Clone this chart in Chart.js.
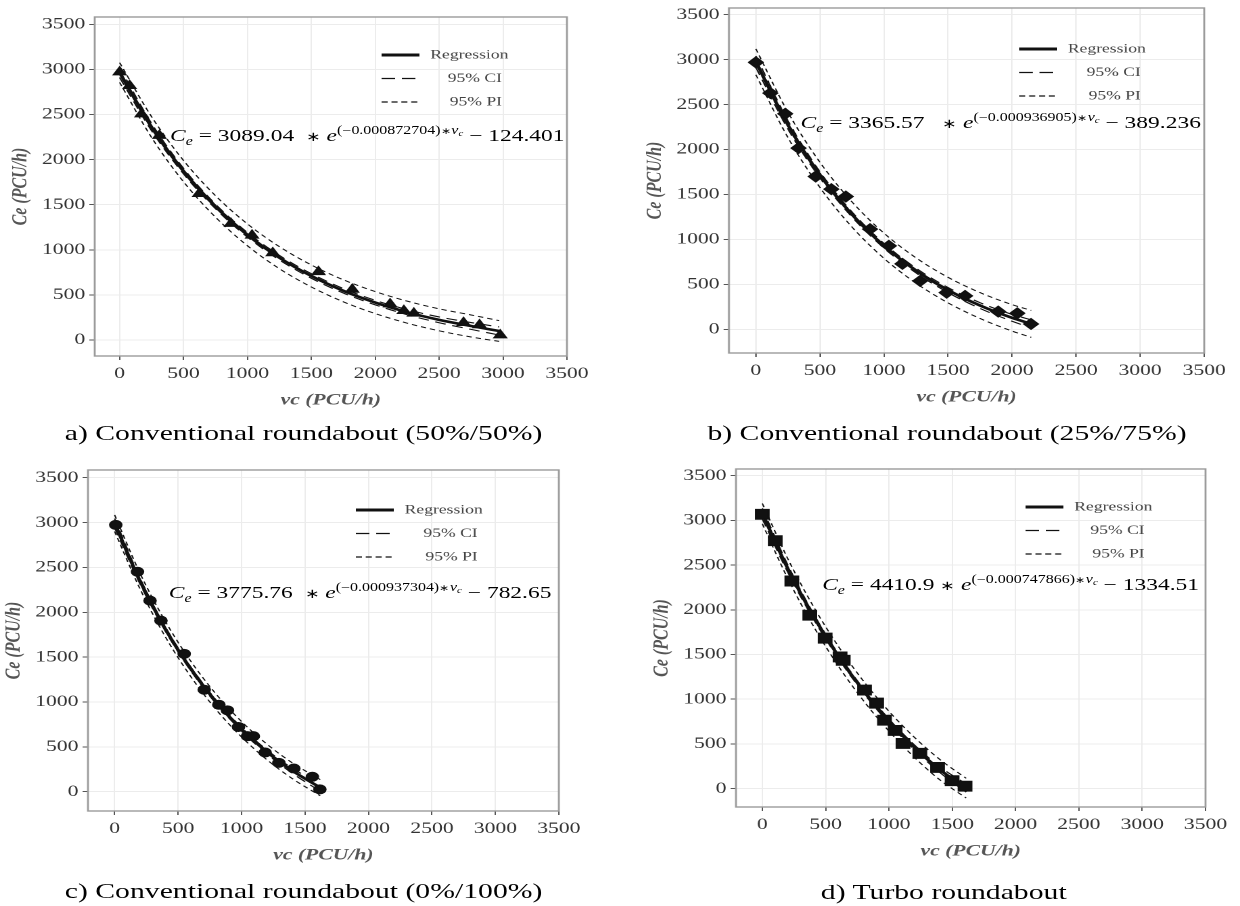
<!DOCTYPE html>
<html>
<head>
<meta charset="utf-8">
<script src="https://cdn.jsdelivr.net/npm/chart.js@4"></script>
<style>
  html, body { margin: 0; padding: 0; background: #fff; }
  body { width: 1240px; height: 906px; overflow: hidden; position: relative; }
  /* the source figure is stretched sideways, so the whole page is too */
  #page { position: absolute; left: 0; top: 0; width: 919px; height: 906px;
          transform: scaleX(1.35); transform-origin: 0 0;
          font-family: "Liberation Serif", "Times New Roman", serif; }
  #page canvas { position: absolute; }
  .eq { position: absolute; font-size: 17.4px; line-height: 1; white-space: nowrap; color: #000; }
  .eq sub, .eq sup { font-size: 0.68em; line-height: 0; position: relative; vertical-align: baseline; }
  .eq sup { top: -0.62em; }
  .eq sub { top: 0.3em; }
  .eq .op { font-size: 0.72em; }
  .cap { position: absolute; font-size: 22px; line-height: 1; white-space: nowrap; color: #000; }
</style>
</head>
<body>
<div id="page">
  <canvas id="chartA"></canvas>
  <canvas id="chartB"></canvas>
  <canvas id="chartC"></canvas>
  <canvas id="chartD"></canvas>

  <div class="eq" style="left:126px;top:127px"><i>C<sub>e</sub></i> = 3089.04&nbsp; <span class="op">∗</span> <i>e</i><sup>(−0.000872704)<span class="op">∗</span><i>v<sub>c</sub></i></sup> − 124.401</div>
  <div class="eq" style="left:593px;top:114px"><i>C<sub>e</sub></i> = 3365.57&nbsp;&nbsp; <span class="op">∗</span> <i>e</i><sup>(−0.000936905)<span class="op">∗</span><i>v<sub>c</sub></i></sup> − 389.236</div>
  <div class="eq" style="left:125px;top:584px"><i>C<sub>e</sub></i> = 3775.76&nbsp; <span class="op">∗</span> <i>e</i><sup>(−0.000937304)<span class="op">∗</span><i>v<sub>c</sub></i></sup> − 782.65</div>
  <div class="eq" style="left:609px;top:576px"><i>C<sub>e</sub></i> = 4410.9 <span class="op">∗</span> <i>e</i><sup>(−0.000747866)<span class="op">∗</span><i>v<sub>c</sub></i></sup> − 1334.51</div>

  <div class="cap" style="left:48px;top:422px">a) Conventional roundabout (50%/50%)</div>
  <div class="cap" style="left:524px;top:422px">b) Conventional roundabout (25%/75%)</div>
  <div class="cap" style="left:48px;top:880px">c) Conventional roundabout (0%/100%)</div>
  <div class="cap" style="left:608px;top:881px">d) Turbo roundabout</div>
</div>

<script>
const xTicks = [0, 500, 1000, 1500, 2000, 2500, 3000, 3500];
const yTicks = [0, 500, 1000, 1500, 2000, 2500, 3000, 3500];
const legendLabels = ['Regression', '95% CI', '95% PI'];

// a) conventional 50%/50% - observed points
const vcA = [0, 78, 171, 311, 622, 871, 1036, 1198, 1556, 1820, 2116, 2224, 2302, 2691, 2816, 2978];
const ceA = [2970, 2819, 2505, 2266, 1621, 1290, 1160, 965, 755, 560, 398, 324, 295, 192, 166, 55];
// a) curves
const fitVcA = [0, 250, 500, 750, 1000, 1250, 1500, 1750, 2000, 2250, 2500, 2750, 2970];
const fitA  = [2965, 2360, 1872, 1481, 1166, 913, 710, 546, 415, 309, 224, 156, 100];
const ciHiA = [3020, 2400, 1902, 1506, 1191, 938, 735, 571, 440, 337, 256, 194, 145];
const ciLoA = [2910, 2320, 1842, 1456, 1141, 888, 685, 521, 390, 281, 192, 118, 55];
const piHiA = [3075, 2475, 1990, 1600, 1287, 1035, 832, 668, 537, 431, 346, 278, 215];
const piLoA = [2855, 2245, 1754, 1362, 1045, 791, 588, 424, 293, 187, 102, 34, -15];

// b) conventional 25%/75%
const vcB = [0, 113, 229, 333, 467, 589, 702, 891, 1038, 1144, 1282, 1489, 1633, 1892, 2041, 2148];
const ceB = [2970, 2628, 2398, 2016, 1700, 1559, 1477, 1114, 928, 728, 538, 408, 371, 197, 178, 59];
const fitVcB = [0, 250, 500, 750, 1000, 1250, 1500, 1750, 2000, 2150];
const fitB  = [2976, 2274, 1718, 1278, 929, 654, 436, 264, 127, 60];
const ciHiB = [3040, 2320, 1752, 1306, 955, 680, 464, 296, 165, 105];
const ciLoB = [2912, 2228, 1684, 1250, 903, 628, 408, 232, 89, 15];
const piHiB = [3120, 2415, 1858, 1418, 1069, 795, 578, 408, 274, 210];
const piLoB = [2832, 2133, 1578, 1138, 789, 513, 294, 120, -20, -90];

// c) conventional 0%/100%
const vcC = [9, 180, 279, 365, 548, 706, 821, 889, 976, 1047, 1093, 1186, 1294, 1412, 1558, 1617];
const ceC = [2974, 2452, 2130, 1907, 1537, 1137, 970, 907, 722, 619, 619, 437, 322, 259, 167, 26];
const fitVcC = [0, 200, 400, 600, 800, 1000, 1200, 1400, 1620];
const fitC  = [2993, 2348, 1812, 1369, 1001, 696, 443, 234, 45];
const ciHiC = [3045, 2380, 1835, 1390, 1021, 716, 465, 262, 85];
const ciLoC = [2941, 2316, 1789, 1348, 981, 676, 421, 206, 5];
const piHiC = [3085, 2435, 1898, 1455, 1087, 782, 530, 322, 135];
const piLoC = [2901, 2261, 1726, 1283, 915, 610, 356, 146, -45];

// d) turbo roundabout
const vcD = [0, 102, 233, 375, 496, 614, 639, 807, 903, 965, 1049, 1111, 1244, 1384, 1499, 1601];
const ceD = [3068, 2773, 2322, 1940, 1683, 1473, 1435, 1102, 956, 765, 650, 505, 394, 237, 88, 27];
const fitVcD = [0, 200, 400, 600, 800, 1000, 1200, 1400, 1610];
const fitD  = [3076, 2464, 1936, 1482, 1091, 754, 463, 214, 5];
const ciHiD = [3135, 2505, 1966, 1506, 1114, 778, 490, 246, 50];
const ciLoD = [3017, 2423, 1906, 1458, 1068, 730, 436, 182, -40];
const piHiD = [3190, 2575, 2046, 1592, 1201, 865, 575, 328, 115];
const piLoD = [2962, 2353, 1826, 1372, 981, 643, 351, 100, -105];

const FONT = '"Liberation Serif", "Times New Roman", serif';

// panel box = [left, top, right, bottom] of the plotting area (unstretched px)
const panels = [
  { id: 'chartA', vc: vcA, ce: ceA, fv: fitVcA, fit: fitA, ciHi: ciHiA, ciLo: ciLoA, piHi: piHiA, piLo: piLoA,
    marker: 'triangle', r: 5.5, xMin: -195, yMin: -177, yMax: 3581,
    box: [69.6, 17, 421.5, 356], leg: { x: 212, right: 48, top: 38 } },
  { id: 'chartB', vc: vcB, ce: ceB, fv: fitVcB, fit: fitB, ciHi: ciHiB, ciLo: ciLoB, piHi: piHiB, piLo: piLoB,
    marker: 'rectRot', r: 5.5, xMin: -210, yMin: -264, yMax: 3575,
    box: [540, 8, 894, 353], leg: { x: 215, right: 47, top: 41 } },
  { id: 'chartC', vc: vcC, ce: ceC, fv: fitVcC, fit: fitC, ciHi: ciHiC, ciLo: ciLoC, piHi: piHiC, piLo: piLoC,
    marker: 'circle', r: 4.5, xMin: -210, yMin: -215, yMax: 3586,
    box: [65.2, 470, 415.6, 811], leg: { x: 198, right: 60, top: 40 } },
  { id: 'chartD', vc: vcD, ce: ceD, fv: fitVcD, fit: fitD, ciHi: ciHiD, ciLo: ciLoD, piHi: piHiD, piLo: piLoD,
    marker: 'rect', r: 7, xMin: -208, yMin: -206, yMax: 3575,
    box: [545.2, 469, 894.8, 807], leg: { x: 214, right: 45, top: 38 } }
];

const LEFT = 70, TOP = 17, RIGHT = 18, BOTTOM = 64;

const xy = (xs, ys) => xs.map((x, i) => ({ x: x, y: ys[i] }));

// grey frame around the plotting area
const framePlugin = {
  id: 'frame',
  beforeDatasetsDraw(chart) {
    const a = chart.chartArea, ctx = chart.ctx;
    ctx.save();
    ctx.strokeStyle = '#9b9b9b';
    ctx.lineWidth = 1.4;
    ctx.strokeRect(a.left, a.top, a.right - a.left, a.bottom - a.top);
    ctx.restore();
  }
};

// ggplot-style legend box inside the panel
const legendPlugin = {
  id: 'fitLegend',
  afterDraw(chart, args, opts) {
    const a = chart.chartArea, ctx = chart.ctx;
    const x0 = a.left + opts.x, x1 = x0 + 28, tx = a.right - opts.right;
    const dashes = [[], [10, 5], [4.5, 2.8]];
    const widths = [3, 1.2, 1.2];
    ctx.save();
    legendLabels.forEach((lab, i) => {
      const y = a.top + opts.top + i * 23.5;
      ctx.beginPath();
      ctx.setLineDash(dashes[i]);
      ctx.lineWidth = widths[i];
      ctx.strokeStyle = '#111';
      ctx.moveTo(x0, y);
      ctx.lineTo(x1, y);
      ctx.stroke();
      ctx.setLineDash([]);
      ctx.fillStyle = '#444';
      ctx.font = '13px ' + FONT;
      ctx.textBaseline = 'middle';
      ctx.textAlign = i === 0 ? 'left' : 'right';
      ctx.fillText(lab, i === 0 ? x1 + 8 : tx, y);
    });
    ctx.restore();
  }
};

panels.forEach(p => {
  const [l, t, r, b] = p.box;
  const canvas = document.getElementById(p.id);
  const w = r - l + LEFT + RIGHT, h = b - t + TOP + BOTTOM;
  canvas.width = w;
  canvas.height = h;
  canvas.style.left = (l - LEFT) + 'px';
  canvas.style.top = (t - TOP) + 'px';
  canvas.style.width = w + 'px';
  canvas.style.height = h + 'px';

  const curve = (data, dash, width, order) => ({
    type: 'line', data: data, borderColor: '#111', borderWidth: width, borderDash: dash,
    pointRadius: 0, fill: false, cubicInterpolationMode: 'monotone', order: order
  });

  new Chart(canvas.getContext('2d'), {
    type: 'scatter',
    data: {
      datasets: [
        { type: 'scatter', data: xy(p.vc, p.ce), pointStyle: p.marker, pointRadius: p.r,
          backgroundColor: '#111', borderColor: '#111', borderWidth: 1, order: 0 },
        curve(xy(p.fv, p.fit), [], 2.6, 1),
        curve(xy(p.fv, p.ciHi), [8, 5], 1.1, 2),
        curve(xy(p.fv, p.ciLo), [8, 5], 1.1, 2),
        curve(xy(p.fv, p.piHi), [4, 3], 1, 3),
        curve(xy(p.fv, p.piLo), [4, 3], 1, 3)
      ]
    },
    options: {
      responsive: false,
      devicePixelRatio: 2,
      animation: false,
      events: [],
      layout: { padding: { left: 0, top: TOP, right: RIGHT, bottom: 0 } },
      plugins: {
        legend: { display: false },
        tooltip: { enabled: false },
        fitLegend: p.leg
      },
      scales: {
        x: {
          type: 'linear', min: p.xMin, max: 3500,
          afterBuildTicks: s => { s.ticks = xTicks.map(v => ({ value: v })); },
          afterFit: s => { s.height = BOTTOM; },
          grid: { color: '#ececec', lineWidth: 1, tickColor: '#555', tickLength: 4 },
          border: { display: false },
          ticks: { font: { family: FONT, size: 16 }, color: '#333', padding: 4, maxRotation: 0, autoSkip: false,
                   callback: v => String(v) },
          title: { display: true, text: 'vc (PCU/h)', color: '#555',
                   font: { family: FONT, size: 16, style: 'italic', weight: 'bold' },
                   padding: { top: 0, bottom: 10 } }
        },
        y: {
          type: 'linear', min: p.yMin, max: p.yMax,
          afterBuildTicks: s => { s.ticks = yTicks.map(v => ({ value: v })); },
          afterFit: s => { s.width = LEFT; },
          grid: { color: '#ececec', lineWidth: 1, tickColor: '#555', tickLength: 4 },
          border: { display: false },
          ticks: { font: { family: FONT, size: 16 }, color: '#333', padding: 3, autoSkip: false,
                   callback: v => String(v) },
          title: { display: true, text: 'Ce (PCU/h)', color: '#555',
                   font: { family: FONT, size: 16, style: 'italic', weight: 'bold' },
                   padding: { top: 6, bottom: 0 } }
        }
      }
    },
    plugins: [framePlugin, legendPlugin]
  });
});
</script>
</body>
</html>
